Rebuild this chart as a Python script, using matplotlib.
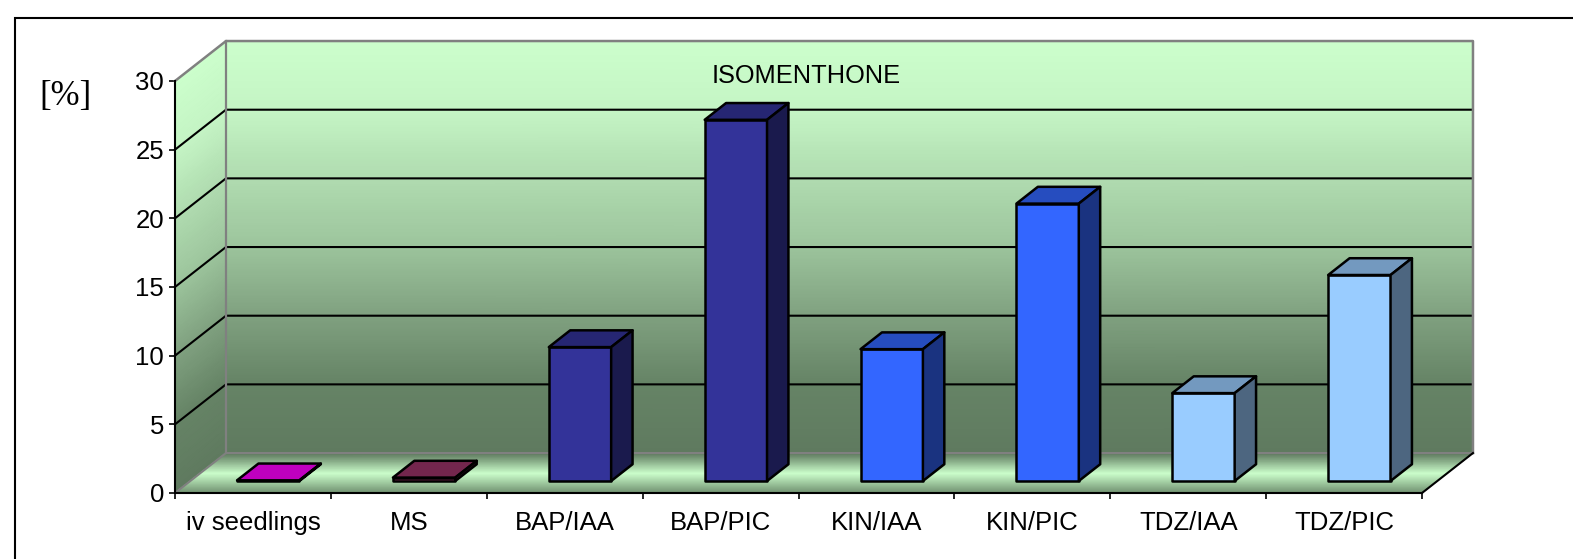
import matplotlib
matplotlib.use("Agg")
import matplotlib.pyplot as plt
import numpy as np
from matplotlib.colors import LinearSegmentedColormap, to_rgb
from matplotlib.patches import Polygon, Rectangle

categories = ["iv seedlings", "MS", "BAP/IAA", "BAP/PIC", "KIN/IAA", "KIN/PIC", "TDZ/IAA", "TDZ/PIC"]
values = [0.05, 0.25, 9.75, 26.3, 9.6, 20.2, 6.4, 15.0]
bar_colors = ["#FF00FF", "#993366", "#333399", "#333399", "#3366FF", "#3366FF", "#99CCFF", "#99CCFF"]
y_ticks = [0, 5, 10, 15, 20, 25, 30]

W, H = 1573, 559
DX, DY = 0.327, 2.91  # how far the back wall is shifted from the front plane
BAR_W = 0.4
BAR_D0, BAR_D1 = 0.3, 0.72

plt.rcParams["font.family"] = ["Liberation Sans", "DejaVu Sans"]

wall_cmap = LinearSegmentedColormap.from_list("wall", [
    (0.0, "#5F7A5F"), (0.17, "#668466"), (0.33, "#7FA07F"), (0.5, "#9CC49C"),
    (0.67, "#B0DCB0"), (0.83, "#C4F4C4"), (1.0, "#CCFFCC"),
])
floor_cmap = LinearSegmentedColormap.from_list("floor", [
    (0.0, "#6F8F6F"), (0.5, "#CCFFCC"), (1.0, "#5F7A5F"),
])


def shade(color, f):
    return tuple(c * f for c in to_rgb(color))


def draw_bar(ax, i, v, color):
    x0 = i + 0.5 - BAR_W / 2 + BAR_D0 * DX
    x1 = x0 + BAR_W
    y0 = BAR_D0 * DY
    ddx = (BAR_D1 - BAR_D0) * DX
    ddy = (BAR_D1 - BAR_D0) * DY
    opts = dict(edgecolor="black", linewidth=1.8, clip_on=False, joinstyle="round", zorder=5)
    ax.add_patch(Rectangle((x0, y0), BAR_W, v, facecolor=color, **opts))
    ax.add_patch(Polygon([(x0, y0 + v), (x1, y0 + v), (x1 + ddx, y0 + v + ddy), (x0 + ddx, y0 + v + ddy)],
                         facecolor=shade(color, 0.75), **opts))
    ax.add_patch(Polygon([(x1, y0), (x1 + ddx, y0 + ddy), (x1 + ddx, y0 + v + ddy), (x1, y0 + v)],
                         facecolor=shade(color, 0.5), **opts))


fig = plt.figure(figsize=(W / 100, H / 100), dpi=100)

# frame runs off the right and bottom of the picture
fig.add_artist(Rectangle((15 / W, -0.1), 1.2, 1.1 - 18 / H, transform=fig.transFigure,
                         facecolor="none", edgecolor="black", linewidth=1.5))

ax = fig.add_axes([175 / W, (H - 493) / H, (1422 - 175) / W, (493 - 81) / H])
n = len(categories)
ax.set_xlim(0, n)
ax.set_ylim(0, 30)
ax.patch.set_visible(False)

t = np.linspace(0, 1, 64)

# back wall
xx, yy = np.meshgrid([DX, n + DX], DY + 30 * t)
ax.pcolormesh(xx, yy, np.meshgrid([0, 1], t)[1], cmap=wall_cmap, shading="gouraud", clip_on=False, zorder=1)

# left wall
dd, tt = np.meshgrid([0, 1], t)
ax.pcolormesh(dd * DX, 30 * tt + dd * DY, tt, cmap=wall_cmap, shading="gouraud", clip_on=False, zorder=1)

# floor
dd, ss = np.meshgrid(t, [0, 1])
ax.pcolormesh(ss * n + dd * DX, dd * DY, dd, cmap=floor_cmap, shading="gouraud", clip_on=False, zorder=1)

# grid lines on both walls
for v in y_ticks[1:-1]:
    ax.plot([0, DX, n + DX], [v, v + DY, v + DY], color="black", linewidth=1.5, clip_on=False, zorder=2)

# wall outlines
grey = "#808080"
ax.plot([0, DX, n + DX, n + DX], [30, 30 + DY, 30 + DY, DY], color=grey, linewidth=1.8, clip_on=False, zorder=3)
ax.plot([DX, DX], [DY, 30 + DY], color=grey, linewidth=1.6, clip_on=False, zorder=3)
ax.plot([0, DX, n + DX], [0, DY, DY], color=grey, linewidth=1.5, clip_on=False, zorder=2)
ax.plot([n, n + DX], [0, DY], color="black", linewidth=1.5, clip_on=False, zorder=3)

for i, (v, c) in enumerate(zip(values, bar_colors)):
    draw_bar(ax, i, v, c)

for side in ["top", "right"]:
    ax.spines[side].set_visible(False)
for side in ["left", "bottom"]:
    ax.spines[side].set_linewidth(1.5)
    ax.spines[side].set_zorder(4)

ax.set_yticks(y_ticks)
ax.set_xticks(range(n + 1))
ax.set_xticklabels([])
ax.set_xticks(np.arange(n) + 0.5, categories, minor=True)
ax.tick_params(axis="x", which="minor", length=0, pad=13, labelsize=18.5)
ax.tick_params(axis="x", which="major", length=4, width=1.2)
ax.tick_params(axis="y", length=4, width=1.2, pad=4, labelsize=18.5)

ax.text(4.05, 30.4, "ISOMENTHONE", ha="center", va="center", fontsize=18.3, zorder=6)
fig.text(65 / W, (H - 96) / H, "[%]", family="Liberation Serif", fontsize=25, ha="center", va="center")

fig.savefig("out.png", dpi=100)
